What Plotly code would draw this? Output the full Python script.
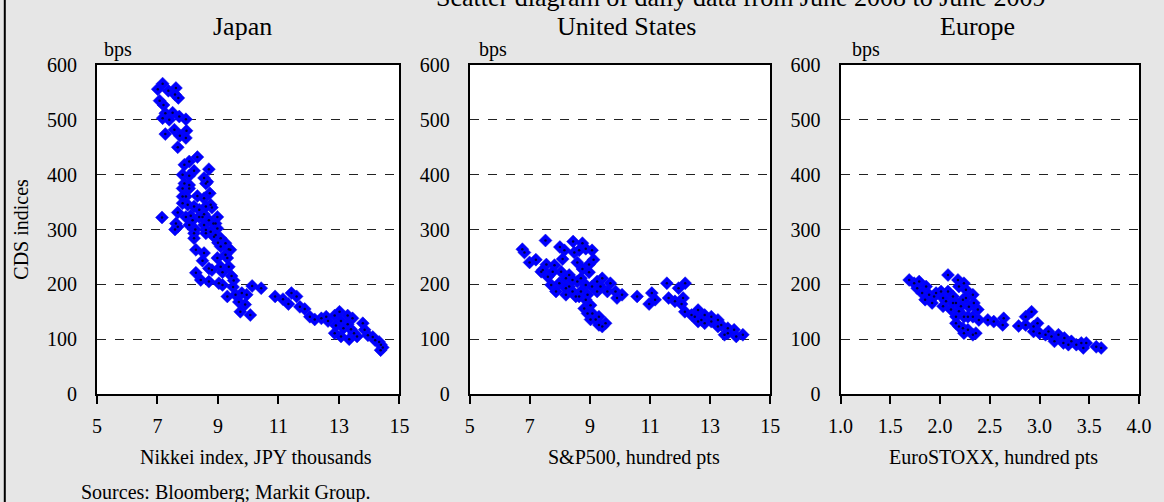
import plotly.graph_objects as go

# ---------------- data ----------------
panel_titles = ["Japan", "United States", "Europe"]
x_titles = ["Nikkei index, JPY thousands", "S&P500, hundred pts", "EuroSTOXX, hundred pts"]
main_title = "Scatter diagram of daily data from June 2008 to June 2009"
source_note = "Sources: Bloomberg; Markit Group."
y_unit = "bps"
y_title = "CDS indices"

jp_x = [7.17, 7.01, 7.36, 7.61, 7.58, 7.69, 7.07, 7.20, 7.26, 7.50, 7.72, 7.94, 7.17, 7.39,
        7.56, 7.96, 7.26, 7.74, 7.94, 7.67, 8.32, 8.05, 7.89, 8.21, 8.70, 7.83, 8.05, 8.54,
        8.65, 7.89, 8.60, 7.83, 8.05, 7.94, 8.32, 8.54, 8.73, 7.83, 8.00, 8.21, 8.76, 8.80,
        8.38, 7.15, 7.67, 8.10, 8.38, 8.54, 8.98, 7.61, 7.67, 8.05, 8.25, 8.54, 8.85, 7.58,
        8.60, 8.98, 8.76, 8.21, 8.92, 9.09, 8.21, 9.00, 9.25, 9.36, 8.27, 8.54, 9.25, 9.41,
        8.98, 9.31, 8.49, 8.70, 9.09, 9.36, 8.80, 8.27, 9.15, 8.43, 8.70, 9.03, 9.15, 9.52,
        9.45, 9.50, 9.31, 9.58, 9.79, 9.95, 10.13, 10.43, 9.69, 9.90, 9.74, 10.07, 10.89,
        11.15, 11.33, 11.43, 11.60, 11.71, 11.87, 12.04, 12.20, 12.42, 12.58, 12.64, 12.86,
        13.02, 13.29, 13.45, 13.07, 13.29, 12.86, 13.07, 13.34, 13.50, 13.79, 13.85, 13.96,
        14.12, 14.33, 14.39, 14.38, 13.15, 13.40, 12.90, 14.20, 14.45, 13.60,
        8.60, 8.49, 8.70, 8.92, 8.60, 8.87, 9.09, 8.16, 7.94, 7.83, 8.05]
jp_y = [566, 556, 553, 558, 546, 540, 535, 527, 512, 513, 506, 501, 503, 500,
        482, 480, 474, 471, 467, 450, 432, 424, 418, 407, 410, 400, 398, 394,
        387, 384, 384, 375, 375, 360, 361, 357, 366, 348, 345, 342, 345, 340,
        336, 322, 331, 325, 323, 328, 323, 311, 305, 308, 300, 308, 311, 300,
        299, 302, 296, 293, 290, 284, 284, 276, 275, 264, 263, 257, 254, 263,
        248, 248, 243, 229, 232, 232, 226, 221, 222, 208, 205, 202, 199, 207,
        215, 195, 178, 181, 184, 181, 197, 193, 168, 163, 150, 144, 178,
        173, 164, 184, 178, 159, 155, 141, 136, 138, 141, 133, 143,
        150, 143, 138, 133, 127, 111, 105, 100, 111, 129, 117, 107,
        104, 95, 90, 80, 120, 118, 125, 98, 85, 105,
        342, 323, 317, 311, 293, 287, 269, 317, 323, 360, 381]

us_x = [7.52, 6.75, 6.82, 6.99, 7.20, 8.00, 8.15, 8.44, 8.75, 8.86, 8.48, 8.64, 9.07, 9.12,
        8.09, 7.55, 7.38, 7.82, 8.58, 8.97, 7.60, 8.04, 8.31, 8.75, 8.97, 9.41, 9.24, 9.68,
        7.71, 7.98, 8.31, 8.58, 8.86, 9.07, 7.87, 8.20, 8.53, 8.70, 9.58, 9.85, 10.07, 9.90,
        10.57, 11.06, 11.17, 10.97, 8.86, 8.81, 9.02, 9.08, 9.30, 9.02, 9.41, 9.52, 11.56,
        11.95, 12.17, 11.62, 11.83, 12.10, 12.05, 12.16, 12.38, 12.60, 12.82, 13.04, 13.26,
        12.60, 12.82, 13.37, 13.59, 13.80, 13.48, 13.87, 14.09,
        7.43, 7.76, 8.20, 8.42, 8.70, 8.20, 8.42, 8.64, 8.92, 9.24, 9.35, 8.92, 9.19, 9.30,
        12.49, 12.71, 13.04, 13.26, 13.59]
us_y = [280, 264, 258, 240, 245, 268, 262, 278, 275, 265, 258, 262, 262, 245,
        246, 236, 223, 235, 240, 236, 214, 223, 217, 228, 222, 211, 205, 202,
        199, 202, 196, 205, 199, 196, 187, 181, 178, 187, 187, 187, 181, 175,
        178, 184, 172, 164, 172, 156, 162, 147, 141, 136, 123, 129, 202,
        193, 202, 175, 169, 175, 164, 150, 144, 153, 144, 141, 135,
        132, 129, 126, 120, 117, 108, 105, 108,
        226, 223, 211, 208, 211, 193, 187, 178, 181, 187, 196, 147, 136, 126,
        141, 135, 132, 123, 111]

eu_x = [1.69, 1.74, 1.79, 1.77, 1.86, 1.82, 1.89, 1.94, 1.85, 1.92, 2.01, 2.08, 2.06, 2.03,
        2.13, 2.18, 2.19, 2.24, 2.26, 2.16, 2.23, 2.33, 2.29, 2.11, 2.19, 2.38, 2.34, 2.39,
        2.33, 2.24, 2.16, 2.23, 2.28, 2.33, 2.36, 2.48, 2.54, 2.63, 2.64, 2.79, 2.86, 2.92,
        2.86, 2.94, 2.98, 2.94, 3.00, 3.09, 3.12, 3.19, 3.25, 3.15, 3.24, 3.32, 3.37, 3.44,
        3.47, 3.57, 3.62,
        2.08, 2.13, 2.21, 2.26, 2.16, 2.28, 2.19, 2.24, 1.96, 2.03, 3.06, 3.29, 3.42]
eu_y = [208, 202, 205, 193, 196, 184, 181, 178, 172, 166, 187, 217, 169, 160,
        178, 208, 196, 202, 190, 166, 172, 181, 159, 154, 151, 154, 166, 135,
        141, 141, 129, 120, 117, 108, 111, 135, 132, 126, 138, 124, 141, 150,
        126, 123, 129, 114, 111, 114, 105, 108, 102, 96, 93, 96, 90, 84,
        93, 86, 84,
        187, 166, 160, 175, 141, 141, 123, 111, 184, 175, 108, 90, 93]

x_ranges = [[5, 15], [5, 15], [1.0, 4.0]]
x_dticks = [2, 2, 0.5]
x_formats = ["d", "d", ".1f"]

# ---------------- layout geometry ----------------
W, H = 1164, 502
L, R, T, B = 97, 1148, 65, 394
PW, PH = R - L, B - T


def px(x):
    return (x - L) / PW


def py(y):
    return (B - y) / PH


domains = [[px(97), px(402)], [px(473), px(776)], [px(847), px(1148)]]
FONT = "Liberation Serif, Times New Roman, serif"

fig = go.Figure()
series = [(jp_x, jp_y), (us_x, us_y), (eu_x, eu_y)]
for i, (xs, ys) in enumerate(series):
    xa = "x" if i == 0 else f"x{i+1}"
    ya = "y" if i == 0 else f"y{i+1}"
    fig.add_trace(go.Scatter(x=xs, y=ys, mode="markers", xaxis=xa, yaxis=ya,
                             marker=dict(symbol="diamond", size=10, color="#0000FF",
                                         line=dict(color="#1010E0", width=0.5)),
                             showlegend=False, hoverinfo="x+y"))
    fig.add_trace(go.Scatter(x=xs, y=ys, mode="markers", xaxis=xa, yaxis=ya,
                             marker=dict(symbol="circle", size=2.5, color="#000040"),
                             showlegend=False, hoverinfo="skip"))

layout = dict(
    width=W, height=H,
    margin=dict(l=L, r=W - R, t=T, b=H - B, pad=0),
    paper_bgcolor="#e6e6e6", plot_bgcolor="white",
    font=dict(family=FONT, size=20, color="black"),
    showlegend=False,
)
for i in range(3):
    sfx = "" if i == 0 else str(i + 1)
    layout["xaxis" + sfx] = dict(
        domain=domains[i], range=x_ranges[i], dtick=x_dticks[i], tick0=x_ranges[i][0],
        tickformat=x_formats[i], ticks="outside", ticklen=8, tickwidth=2, tickcolor="black",
        showline=True, linewidth=2, linecolor="black", mirror=True, showgrid=False,
        zeroline=False, anchor="y" + sfx, ticklabelstandoff=5,
        tickfont=dict(family=FONT, size=20))
    layout["yaxis" + sfx] = dict(
        domain=[0, 1], range=[0, 600], dtick=100, tick0=0, ticks="",
        showline=True, linewidth=2, linecolor="black", mirror=True,
        showgrid=True, gridcolor="#222222", gridwidth=1, griddash="dash",
        zeroline=False, anchor="x" + sfx, ticklabelstandoff=14,
        tickfont=dict(family=FONT, size=20))
fig.update_layout(**layout)

ann = []
title_cx = [244, 631, 985]
xt_cx = [257, 639, 1001]
bps_x = [102, 480, 857]
for i in range(3):
    ann.append(dict(text=panel_titles[i], x=px(title_cx[i]), y=py(26), xref="paper", yref="paper",
                    xanchor="center", yanchor="middle", showarrow=False,
                    font=dict(family=FONT, size=26)))
    ann.append(dict(text=x_titles[i], x=px(xt_cx[i]), y=py(457), xref="paper", yref="paper",
                    xanchor="center", yanchor="middle", showarrow=False,
                    font=dict(family=FONT, size=20)))
    ann.append(dict(text=y_unit, x=px(bps_x[i]), y=py(49), xref="paper", yref="paper",
                    xanchor="left", yanchor="middle", showarrow=False,
                    font=dict(family=FONT, size=20)))
ann.append(dict(text=main_title, x=px(746), y=py(-2), xref="paper", yref="paper",
                xanchor="center", yanchor="middle", showarrow=False,
                font=dict(family=FONT, size=26)))
ann.append(dict(text=source_note, x=px(79), y=py(492), xref="paper", yref="paper",
                xanchor="left", yanchor="middle", showarrow=False,
                font=dict(family=FONT, size=20)))
ann.append(dict(text=y_title, x=px(20), y=py(229), xref="paper", yref="paper",
                xanchor="center", yanchor="middle", showarrow=False, textangle=-90,
                font=dict(family=FONT, size=20)))
fig.update_layout(annotations=ann)

fig.add_shape(type="line", xref="paper", yref="paper", x0=px(4), x1=px(4), y0=py(-5), y1=py(H + 5),
              line=dict(color="black", width=2))

fig.write_html("out.html", config={"displayModeBar": False},
               post_script="document.body.style.margin='0';document.body.style.overflow='hidden';")
